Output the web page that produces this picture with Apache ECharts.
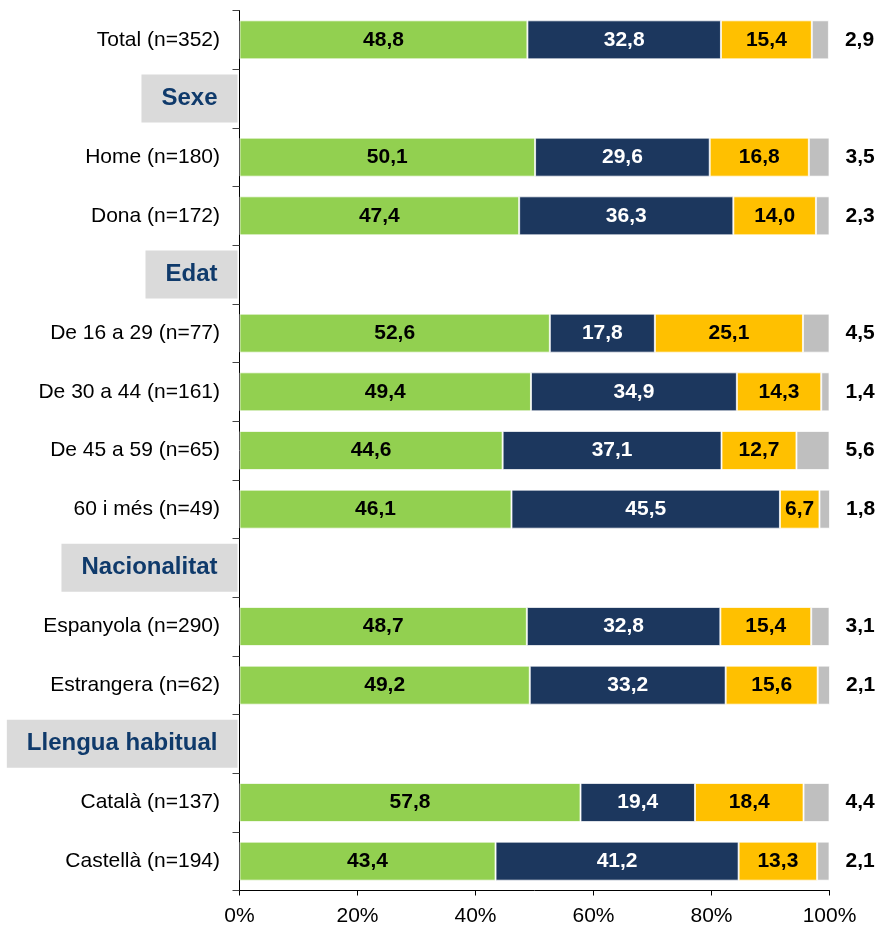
<!DOCTYPE html>
<html>
<head>
<meta charset="utf-8">
<script src="https://cdn.jsdelivr.net/npm/echarts@6/dist/echarts.min.js"></script>
<style>
html,body{margin:0;padding:0;background:#fff;}
#chart{width:881px;height:926px;}
</style>
</head>
<body>
<div id="chart"></div>
<script>
var categories = ['Total (n=352)','Sexe','Home (n=180)','Dona (n=172)','Edat','De 16 a 29 (n=77)','De 30 a 44 (n=161)','De 45 a 59 (n=65)','60 i més (n=49)','Nacionalitat','Espanyola (n=290)','Estrangera (n=62)','Llengua habitual','Català (n=137)','Castellà (n=194)'];
var headers = ['Sexe','Edat','Nacionalitat','Llengua habitual'];
var seriesGreen  = [48.8,null,50.1,47.4,null,52.6,49.4,44.6,46.1,null,48.7,49.2,null,57.8,43.4];
var seriesNavy   = [32.8,null,29.6,36.3,null,17.8,34.9,37.1,45.5,null,32.8,33.2,null,19.4,41.2];
var seriesYellow = [15.4,null,16.8,14.0,null,25.1,14.3,12.7,6.7,null,15.4,15.6,null,18.4,13.3];
var seriesGray   = [2.9,null,3.5,2.3,null,4.5,1.4,5.6,1.8,null,3.1,2.1,null,4.4,2.1];
var xTicks = [0,20,40,60,80,100];

var FONT = "'Liberation Sans', Arial, sans-serif";
function fmt(p){ return p.value == null ? '' : Number(p.value).toFixed(1).replace('.', ','); }

var chart = echarts.init(document.getElementById('chart'), null, {renderer:'canvas'});

function mkSeries(name, data, color, labelColor, outside){
  return {
    name: name, type: 'bar', stack: 'all', data: data, barWidth: 39,
    itemStyle: {color: color, borderColor: 'rgba(255,255,255,0.7)', borderWidth: 1},
    label: {
      show: true,
      position: outside ? 'right' : 'inside',
      distance: 16,
      formatter: fmt,
      color: labelColor,
      fontFamily: FONT, fontSize: 21, fontWeight: 'bold'
    },
    emphasis: {disabled: true},
    animation: false
  };
}

chart.setOption({
  animation: false,
  backgroundColor: '#fff',
  grid: {left: 239.5, right: 51.5, top: 10.5, bottom: 35.5, outerBoundsMode: 'none', containLabel: false},
  xAxis: {
    type: 'value', min: xTicks[0], max: xTicks[xTicks.length-1], interval: 20,
    axisLine: {show: true, lineStyle: {color: '#000', width: 1}},
    axisTick: {show: true, length: 5, lineStyle: {color: '#000'}},
    splitLine: {show: false},
    axisLabel: {formatter: '{value}%', color: '#000', fontFamily: FONT, fontSize: 21, margin: 15}
  },
  yAxis: {
    type: 'category', data: categories, inverse: true,
    axisLine: {show: true, lineStyle: {color: '#000', width: 1}},
    axisTick: {show: true, length: 7, lineStyle: {color: '#444'}},
    axisLabel: {
      margin: 2,
      interval: 0,
      formatter: function(v){ return headers.indexOf(v) >= 0 ? '{h|' + v + '}' : '{n|' + v + '}'; },
      rich: {
        n: {color: '#000', fontFamily: FONT, fontSize: 21, padding: [0, 17.5, 0, 0]},
        h: {color: '#0f3a6b', fontFamily: FONT, fontSize: 24, fontWeight: 'bold', backgroundColor: '#dadada', padding: [12, 20, 12, 20], lineHeight: 24}
      }
    }
  },
  series: [
    mkSeries('A', seriesGreen, '#92d050', '#000', false),
    mkSeries('B', seriesNavy, '#1c375e', '#fff', false),
    mkSeries('C', seriesYellow, '#ffc000', '#000', false),
    mkSeries('D', seriesGray, '#bfbfbf', '#000', true)
  ]
});
</script>
</body>
</html>
